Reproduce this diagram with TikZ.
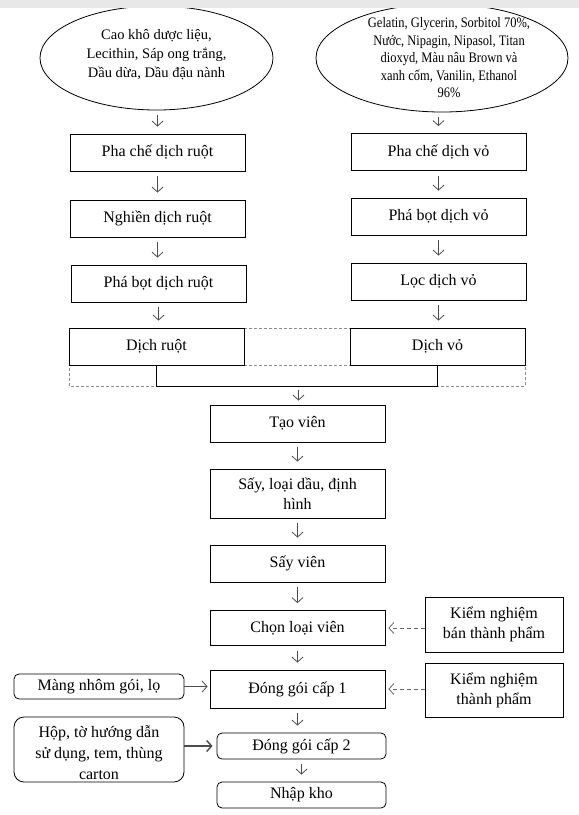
\documentclass[tikz,border=0pt]{standalone}
\usepackage{fontspec}
\setmainfont{Liberation Serif}
\newfontfamily\narrowfont[FakeStretch=0.86]{Liberation Serif}
\usetikzlibrary{arrows.meta,shapes.geometric}
\begin{document}
\begin{tikzpicture}[x=1pt,y=-1pt,
    box/.style={draw,line width=0.8pt,minimum width=175pt,minimum height=37pt,inner sep=1pt,align=center,font=\fontsize{16}{20}\selectfont},
    rbox/.style={box,rounded corners=5pt},
    oval/.style={draw,ellipse,line width=0.8pt,inner sep=0pt},
    arr/.style={draw=black!70,line width=0.8pt,-{Straight Barb[length=5pt,width=11pt]},shorten <=5pt,shorten >=7pt},
    darr/.style={draw=black!60,line width=0.8pt,dash pattern=on 4pt off 3pt,-{Straight Barb[length=5pt,width=11pt]},shorten >=3pt},
    grp/.style={draw=black!45,line width=0.6pt,dash pattern=on 3pt off 2pt}]
    \useasboundingbox (0,0) rectangle (579,815);

    \node[oval,minimum width=233pt,minimum height=104pt] (le) at (156.5,58) {};
    \node[align=center,font=\fontsize{14.5}{19}\selectfont] (lt) at (156.5,55) {Cao khô dược liệu,\\Lecithin, Sáp ong trắng,\\Dầu dừa, Dầu đậu nành};
    \node[oval,minimum width=252pt,minimum height=108pt] (re) at (442,58) {};
    \node[align=center,font=\narrowfont\fontsize{14.5}{17.5}\selectfont] (rt) at (449,58) {Gelatin, Glycerin, Sorbitol 70\%,\\Nước, Nipagin, Nipasol, Titan\\dioxyd, Màu nâu Brown và\\xanh cốm, Vanilin, Ethanol\\96\%};
    \fill[black!9] (0,0) rectangle (579,8);

    \node[box] (pcr) at (157.5,152.5) {Pha chế dịch ruột};
    \node[box] (ngr) at (157.5,218.5) {Nghiền dịch ruột};
    \node[box] (pbr) at (158.5,283.5) {Phá bọt dịch ruột};
    \node[box] (pcv) at (438.5,152) {Pha chế dịch vỏ};
    \node[box] (pbv) at (438.5,216.5) {Phá bọt dịch vỏ};
    \node[box] (lcv) at (438.5,281.5) {Lọc dịch vỏ};

    \coordinate (jn) at (298.5,386);
    \draw[grp] (69,328) rectangle (525,386);
    \draw[grp] (244,365) -- (350,365);
    \node[box] (dr) at (156.5,346.5) {Dịch ruột};
    \node[box] (dv) at (437.5,346.5) {Dịch vỏ};

    \node[box] (tv) at (297.5,423.5) {Tạo viên};
    \node[box,minimum height=49pt] (say) at (297.5,493.5) {Sấy, loại dầu, định\\hình};
    \node[box] (sv) at (297.5,563.5) {Sấy viên};
    \node[box,minimum height=35pt] (clv) at (297.5,628) {Chọn loại viên};
    \node[box,minimum height=38pt] (dg1) at (297.5,689) {Đóng gói cấp 1};
    \node[rbox,minimum width=169pt,minimum height=26pt] (dg2) at (301.5,746) {Đóng gói cấp 2};
    \node[rbox,minimum width=169pt,minimum height=26pt] (nk) at (301.5,795) {Nhập kho};

    \node[box,minimum width=138pt,minimum height=55pt] (knb) at (494,624.5) {Kiểm nghiệm\\bán thành phẩm};
    \node[box,minimum width=138pt,minimum height=54pt] (knt) at (494,690) {Kiểm nghiệm\\thành phẩm};
    \node[rbox,minimum width=170pt,minimum height=25pt] (mn) at (99,686.5) {Màng nhôm gói, lọ};
    \node[rbox,rounded corners=10pt,minimum width=170pt,minimum height=65pt] (hop) at (99,749.5) {};
    \node[align=center,font=\fontsize{16}{21}\selectfont] (hopt) at (99,753) {Hộp, tờ hướng dẫn\\sử dụng, tem, thùng\\carton};

    \draw[arr] (pcr.north |- le.south) -- (pcr.north);
    \draw[arr] (pcv.north |- re.south) -- (pcv.north);
    \foreach \a/\b in {pcr/ngr, ngr/pbr, pbr/dr, pcv/pbv, pbv/lcv, lcv/dv, tv/say, say/sv, sv/clv, clv/dg1, dg1/dg2, dg2/nk}
      \draw[arr] (\a.south) -- (\a.south |- \b.north);

    \draw[line width=0.8pt] (dr.south) -- (dr.south |- jn) -- (dv.south |- jn) -- (dv.south);
    \draw[arr,shorten <=4pt,shorten >=4pt] (jn) -- (jn |- tv.north);

    \draw[darr] (knb.west |- clv.east) -- (clv.east);
    \draw[darr] (knt.west |- dg1.east) -- (dg1.east);
    \draw[arr,shorten <=0pt,shorten >=2pt] (mn.east) -- (dg1.west |- mn.east);
    \draw[arr,line width=1.4pt,shorten <=0pt,shorten >=4pt] (hop.east |- dg2.west) -- (dg2.west);
  \end{tikzpicture}
\end{document}
